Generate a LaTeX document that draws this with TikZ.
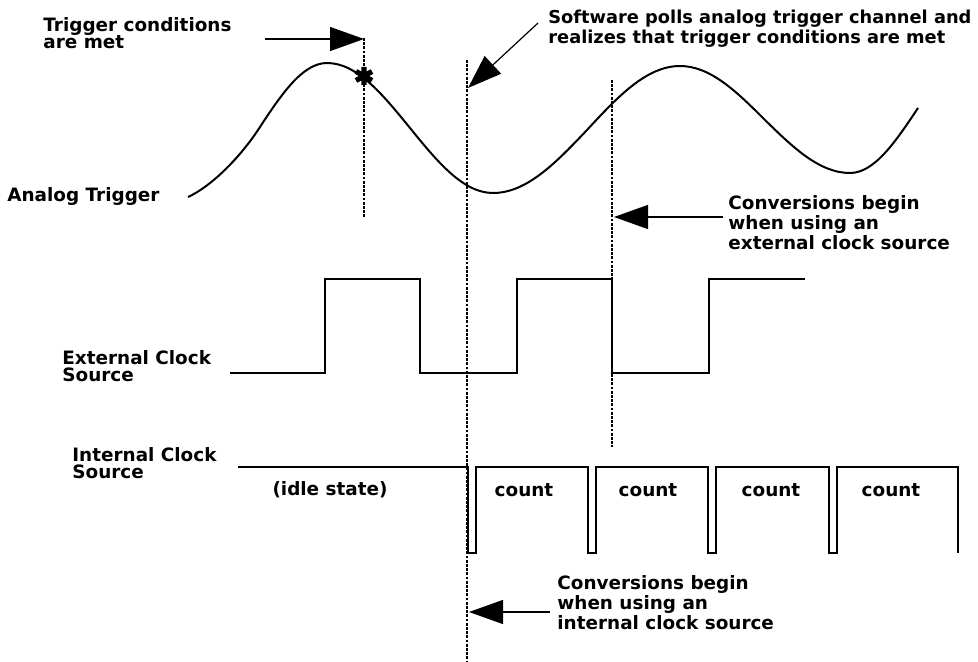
\documentclass[tikz,border=0pt]{standalone}
\usepackage{fontspec}
\setmainfont{DejaVu Sans}
\usetikzlibrary{arrows.meta}
\tikzset{x=0.5pt, y=-0.5pt, % one unit is one pixel of the drawing, y runs downwards
lbl/.style={font=\bfseries\fontsize{9.2}{8.6}\selectfont, align=left, inner sep=0pt, anchor=north west}, % all the texts
wave/.style={line width=0.8pt, line join=miter}, % the clock signals
guide/.style={dash pattern=on 1.4pt off 0.7pt, line width=0.55pt}, % the vertical time marks
pointer/.style={-{Triangle[length=17pt,width=12pt]}, line width=0.6pt}, % the big black arrows
}

\begin{document}
\begin{tikzpicture}
  \useasboundingbox (0,0) rectangle (978,662);

  % texts
  \node[lbl] (trig) at (43,17) {Trigger conditions\\are met};
  \node[lbl, font=\bfseries\fontsize{8.9}{8.6}\selectfont] (poll) at (548,10) {Software polls analog trigger channel and\\realizes that trigger conditions are met};
  \node[lbl] (analog) at (7,187) {Analog Trigger};
  \node[lbl] (extconv) at (728,195) {Conversions begin\\when using an\\external clock source};
  \node[lbl] (extclk) at (62,350) {External Clock\\Source};
  \node[lbl] (intclk) at (72,447) {Internal Clock\\Source};
  \node[lbl] (intconv) at (557,575) {Conversions begin\\when using an\\internal clock source};
  \node[lbl, anchor=center] (idle) at (330,490) {(idle state)};
  \foreach \x/\n in {524/1, 648/2, 771/3, 891/4}
    \node[lbl, anchor=center] (count\n) at (\x,490) {count};

  % time marks
  \coordinate (trigtop) at (364,38);
  \coordinate (trigbot) at (364,217);
  \coordinate (polltop) at (467,60);
  \coordinate (pollbot) at (467,662);
  \coordinate (exttop) at (612,80);
  \coordinate (extbot) at (612,447);
  \draw[guide] (trigtop) -- (trigbot);
  \draw[guide] (polltop) -- (pollbot);
  \draw[guide] (exttop) -- (extbot);

  % analog trigger, quarter waves between the turning points
  \draw[line width=1pt] (188,197) .. controls (210,187) and (238,160) .. (258,130)
    sin (327,63) cos (410,128) sin (493,193)
    cos (587,130) sin (680,66) cos (765,120) sin (850,173) cos (918,108);
  \coordinate (star) at (364,76);
  \draw[line width=2.6pt] (star) +(0,-9) -- +(0,9)
    (star) +(-8,-4.5) -- +(8,4.5)
    (star) +(-8,4.5) -- +(8,-4.5);

  % external clock
  \draw[wave] (230,373) \foreach \x in {325,517} { -- (\x,373) -- (\x,279) -- (\x+95,279) -- (\x+95,373) }
    -- (709,373) -- (709,279) -- (805,279);

  % internal clock
  \draw[wave] (238,467) \foreach \x in {468,588,708,829} { -- (\x,467) -- (\x,553) -- (\x+8,553) -- (\x+8,467) }
    -- (958,467) -- (958,553);

  % arrows
  \coordinate (trigtail) at (265,39);
  \coordinate (trigtip) at (364,39);
  \coordinate (polltail) at (538,23);
  \coordinate (polltip) at (468,88);
  \coordinate (exttail) at (723,217);
  \coordinate (exttip) at (614,217);
  \coordinate (inttail) at (550,612);
  \coordinate (inttip) at (469,612);
  \draw[pointer] (trigtail) -- (trigtip);
  \draw[pointer] (polltail) -- (polltip);
  \draw[pointer] (exttail) -- (exttip);
  \draw[pointer] (inttail) -- (inttip);

\end{tikzpicture}
\end{document}
